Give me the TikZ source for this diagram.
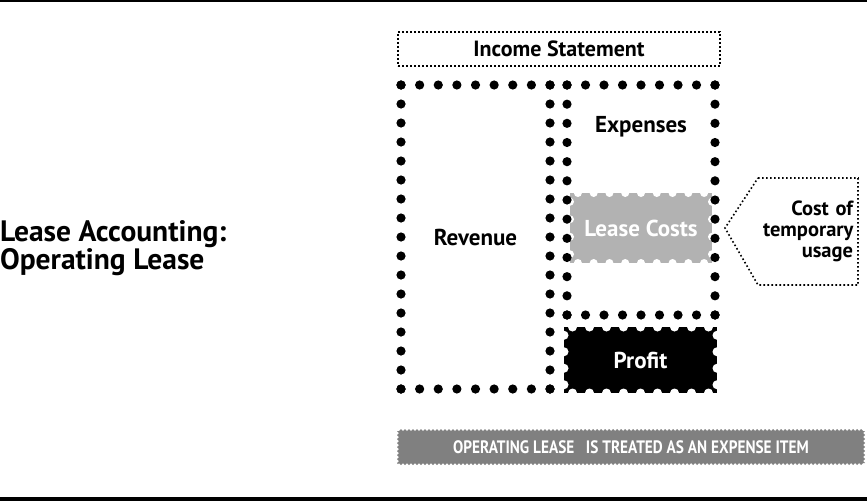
\documentclass[tikz,border=0pt]{standalone}
\usepackage{fontspec}
\setmainfont{PT Sans}
\usetikzlibrary{positioning,calc,decorations.pathmorphing}

\definecolor{leasegray}{HTML}{B2B2B2}
\definecolor{bannergray}{HTML}{808080}

% big round dots round a node: node, steps across, steps down
\newcommand{\bigdots}[3]{%
  \foreach \k in {0,...,#2}{
    \fill ($(#1.north west)!\k/#2!(#1.north east)$) circle (4.6pt);
    \fill ($(#1.south west)!\k/#2!(#1.south east)$) circle (4.6pt);}
  \foreach \k in {0,...,#3}{
    \fill ($(#1.north west)!\k/#3!(#1.south west)$) circle (4.6pt);
    \fill ($(#1.north east)!\k/#3!(#1.south east)$) circle (4.6pt);}}

% stamp perforations: node, notches across, notches down, radius
\newcommand{\perfs}[4]{%
  \foreach \k in {1,...,#2}{
    \fill[white] ($(#1.north west)!\k/#2-0.5/#2!(#1.north east)$) circle (#4);
    \fill[white] ($(#1.south west)!\k/#2-0.5/#2!(#1.south east)$) circle (#4);}
  \foreach \k in {1,...,#3}{
    \fill[white] ($(#1.north west)!\k/#3-0.5/#3!(#1.south west)$) circle (#4);
    \fill[white] ($(#1.north east)!\k/#3-0.5/#3!(#1.south east)$) circle (#4);}}

\begin{document}
\begin{tikzpicture}[x=1pt, y=-1pt,
  font=\bfseries\fontsize{23}{25}\selectfont,
  area/.style={inner sep=0pt, outer sep=0pt},
  finedots/.style={draw, line width=1.6pt, dash pattern=on 1.6pt off 2.4pt},
  stampbox/.style={area, fill=#1, text=white}]
  \useasboundingbox (0,0) rectangle (867,501);
  \fill (0,0) rectangle (867,2);
  \fill (0,497) rectangle (867,501);
  % title
  \node[area, anchor=west, align=left, font=\bfseries\fontsize{29.5}{28.5}\selectfont] (title) at (0,248) {Lease Accounting:\\Operating Lease};
  % statement header
  \node[area, finedots, minimum width=322pt, minimum height=34pt, font=\bfseries\fontsize{22}{24}\selectfont] (inc) at (559,49) {Income Statement};
  % revenue and expenses frames
  \node[area, minimum width=149pt, minimum height=304pt] (rev) at (475.5,237) {Revenue};
  \node[area, minimum width=148pt, minimum height=230pt] (exp) at (641,200) {};
  \node[anchor=base] (explabel) at ($(exp.north)+(0,47)$) {Expenses};
  % stamps
  \node[stampbox=leasegray, minimum width=142pt, minimum height=70pt] (lease) at (641,228) {Lease Costs};
  \perfs{lease}{9}{4}{4pt}
  \node[stampbox=black, minimum width=153pt, minimum height=66pt] (profit) at (640.5,360) {Profit};
  \perfs{profit}{9}{4}{4.5pt}
  \bigdots{rev}{8}{16}
  \bigdots{exp}{8}{12}
  % callout
  \node[area, minimum width=100pt, minimum height=107pt, text width=90pt, align=right,
    font=\bfseries\fontsize{20.5}{21}\selectfont] (usage) at (808,231.5) {Cost of\\temporary\\usage};
  \coordinate[right=13pt of lease.east] (tip);
  \draw[finedots] (usage.north west) -- (usage.north east) -- (usage.south east)
    -- (usage.south west) -- (tip) -- cycle;
  % banner
  \node[area, fill=bannergray, text=white, minimum width=466pt, minimum height=34pt,
    font=\bfseries\fontsize{18}{20}\selectfont,
    decorate, decoration={zigzag, segment length=4pt, amplitude=1pt}] (banner) at (631,447)
    {\scalebox{0.85}[1]{OPERATING LEASE \ \ IS TREATED AS AN EXPENSE ITEM}};
\end{tikzpicture}
\end{document}
